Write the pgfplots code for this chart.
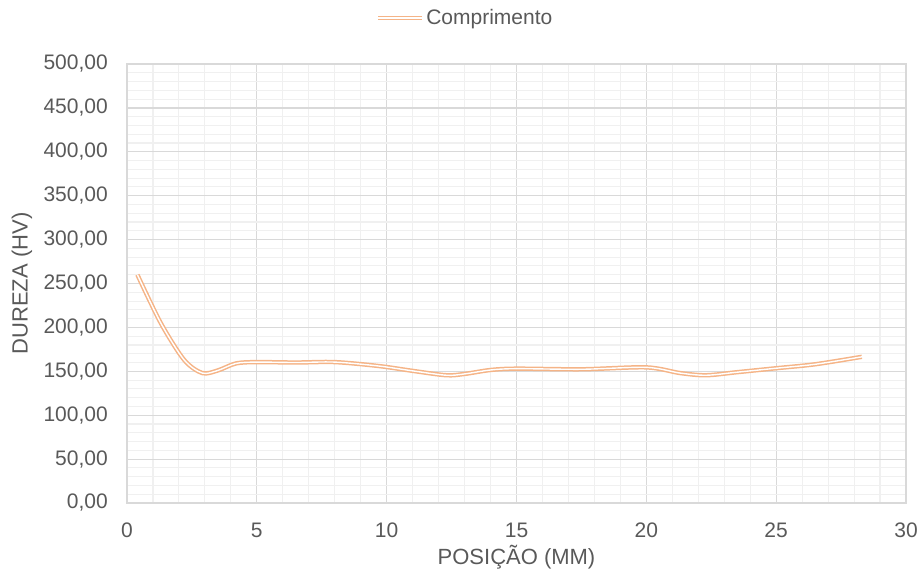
\documentclass[border=0pt]{standalone}
\usepackage{fontspec}
\setmainfont{Liberation Sans}
\usepackage{pgfplots}
\pgfplotsset{compat=1.18}
\definecolor{txt}{RGB}{89,89,89}
\definecolor{majg}{RGB}{217,217,217}
\definecolor{ming}{RGB}{240,240,240}
\definecolor{ser}{RGB}{245,180,135}
\begin{document}
\begin{tikzpicture}[x=1pt,y=1pt]
\path[use as bounding box] (0,0) rectangle (920,573);
\begin{axis}[
  at={(127pt,70pt)}, anchor=south west,
  scale only axis, width=779pt, height=439pt,
  xmin=0, xmax=30, ymin=0, ymax=500,
  xtick={0,5,...,30}, ytick={0,50,...,500},
  minor x tick num=4, minor y tick num=4,
  grid=both,
  major grid style={draw=majg, line width=1.2pt},
  minor grid style={draw=ming, line width=1.1pt},
  axis line style={draw=majg, line width=1.2pt},
  major tick length=0pt, minor tick length=0pt,
  /pgf/number format/assume math mode=true,
  tick label style={font=\fontsize{21}{25}\selectfont, text=txt, inner sep=0pt},
  yticklabel style={/pgf/number format/fixed, /pgf/number format/fixed zerofill, /pgf/number format/precision=2, /pgf/number format/use comma, /pgf/number format/1000 sep={}, xshift=-19pt},
  xticklabel style={yshift=-19.5pt},
  xlabel={POSIÇÃO (MM)},
  ylabel={DUREZA (HV)},
  every axis x label/.style={at={(axis description cs:0.5,-0.123)}, anchor=center, font=\fontsize{22}{26}\selectfont, text=txt},
  every axis y label/.style={at={(axis description cs:-0.1348,0.5)}, rotate=90, anchor=center, font=\fontsize{22}{26}\selectfont, text=txt},
  legend style={at={(axis description cs:0.434,1.105)}, anchor=center, draw=none, fill=none, font=\fontsize{21}{25}\selectfont, text=txt},
  legend image code/.code={\draw[#1] (0pt,0pt) -- (44pt,0pt);},
]
\addplot[draw=ser, double=white, double distance=1.4pt, line width=1.5pt, smooth, tension=0.5] coordinates {
 (0.4,260) (1.3,205) (2.2,163) (2.9,148) (3.5,151) (4.2,159) (5,160.5)
 (6.5,160) (8,160.5) (9.7,156) (11,150.5) (12.3,145.5) (13,147) (14,151.5)
 (15,153) (17.5,152.3) (20,154.5) (21.3,148) (22.3,145.5) (23.5,149)
 (25,153.5) (26.5,158) (28.3,166.5)
};
\addlegendentry{Comprimento}
\end{axis}
\end{tikzpicture}
\end{document}
